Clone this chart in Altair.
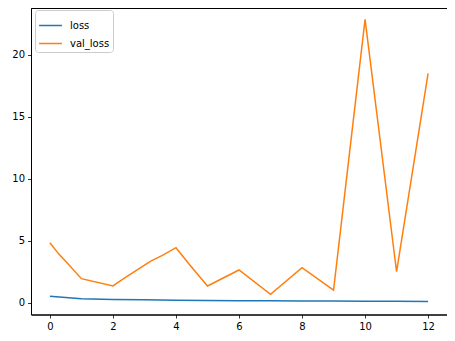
import altair as alt
import pandas as pd

# loss series (blue)
loss_x = [0, 1, 2, 3, 4, 5, 6, 7, 8, 9, 10, 11, 12]
loss_y = [0.52, 0.33, 0.26, 0.23, 0.20, 0.18, 0.16, 0.15, 0.14, 0.13, 0.12, 0.11, 0.10]

# val_loss series (orange)
val_x = [0, 0.29, 0.55, 1.0, 2.0, 2.35, 3.2, 3.57, 4.0, 4.42, 5.0, 6.0, 7.0, 8.0, 9.0, 10.0, 11.0, 12.0]
val_y = [4.84, 3.9, 3.2, 1.94, 1.35, 1.97, 3.36, 3.82, 4.44, 3.1, 1.35, 2.64, 0.68, 2.82, 1.02, 22.85, 2.5, 18.5]

series_names = ["loss", "val_loss"]
series_colors = ["#1f77b4", "#ff7f0e"]
x_ticks = [0, 2, 4, 6, 8, 10, 12]
y_ticks = [0, 5, 10, 15, 20]

rows = []
for i, (x, y) in enumerate(zip(loss_x, loss_y)):
    rows.append({"epoch": x, "value": y, "series": "loss", "order": i})
for i, (x, y) in enumerate(zip(val_x, val_y)):
    rows.append({"epoch": x, "value": y, "series": "val_loss", "order": i})
df = pd.DataFrame(rows)

chart = alt.Chart(df).mark_line(strokeWidth=1.5).encode(
    x=alt.X("epoch:Q", scale=alt.Scale(domain=[-0.6, 12.6], nice=False, zero=False),
            axis=alt.Axis(values=x_ticks, title=None, grid=False, format="d")),
    y=alt.Y("value:Q", scale=alt.Scale(domain=[-0.95, 23.77], nice=False, zero=False),
            axis=alt.Axis(values=y_ticks, title=None, grid=False, format="d")),
    color=alt.Color("series:N",
                    scale=alt.Scale(domain=series_names, range=series_colors),
                    legend=alt.Legend(title=None, orient="none", legendX=4, legendY=2,
                                      symbolType="stroke", symbolSize=520, symbolStrokeWidth=1.5,
                                      labelFontSize=10, labelFont="DejaVu Sans", labelColor="black",
                                      strokeColor="#cccccc", fillColor="white", cornerRadius=3,
                                      padding=3, rowPadding=-7.5, labelOffset=7)),
    order="order:Q",
).properties(
    width=416, height=306.5,
    autosize=alt.AutoSizeParams(type="none"),
    padding={"left": 23, "top": 0, "right": 0, "bottom": 20},
).configure_view(
    stroke="black", strokeWidth=1
).configure_axis(
    domainColor="black", domainWidth=1, tickColor="black", tickSize=3.5, tickWidth=0.8,
    labelFont="DejaVu Sans", labelFontSize=10, labelColor="black", labelPadding=3,
)

chart.save("out.html", embed_options={"renderer": "svg", "actions": False})
